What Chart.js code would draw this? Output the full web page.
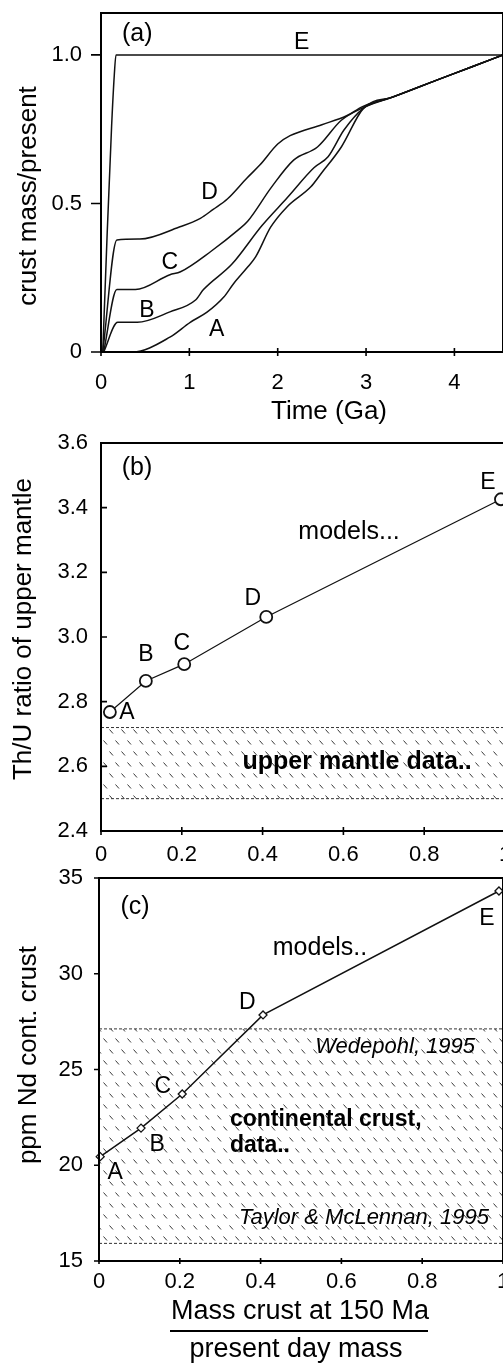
<!DOCTYPE html>
<html><head><meta charset="utf-8">
<script src="https://cdn.jsdelivr.net/npm/chart.js@4.4.1/dist/chart.umd.min.js"></script>
<style>
html,body{margin:0;padding:0;background:#fff;overflow:hidden;}
#page{position:relative;width:503px;height:1364px;overflow:hidden;background:#fff;}
.panel{position:absolute;left:0;}
</style></head><body><div id="page">
<div class="panel" style="top:0;width:520px;height:440px"><canvas id="ca"></canvas></div>
<div class="panel" style="top:420px;width:520px;height:460px"><canvas id="cb"></canvas></div>
<div class="panel" style="top:850px;width:520px;height:514px"><canvas id="cc"></canvas></div>
</div>
<script>
// ---------- Panel (a): crust growth curves ----------
const timeTicks = [0, 1, 2, 3, 4];
const massTicks = [0, 0.5, 1.0];
const curveA_t = [0, 0.36, 0.78, 1.01, 1.2, 1.39, 1.5, 1.66, 1.75, 1.92, 2.11, 2.375, 2.49, 2.72, 2.97, 3.3, 3.8, 4.2, 4.55];
const curveA_m = [0, 0, 0.05, 0.10, 0.134, 0.185, 0.23, 0.286, 0.32, 0.42, 0.49, 0.556, 0.60, 0.69, 0.82, 0.858, 0.915, 0.96, 1.0];
const curveB_t = [0.03, 0.19, 0.41, 0.78, 1.07, 1.16, 1.48, 1.82, 2.11, 2.41, 2.57, 2.75, 2.97, 3.3, 3.8, 4.2, 4.55];
const curveB_m = [0, 0.10, 0.10, 0.135, 0.175, 0.21, 0.295, 0.425, 0.52, 0.62, 0.657, 0.747, 0.82, 0.858, 0.915, 0.96, 1.0];
const curveC_t = [0.03, 0.18, 0.39, 0.78, 0.9, 1.25, 1.55, 1.66, 1.93, 2.18, 2.45, 2.72, 2.95, 3.3, 3.8, 4.2, 4.55];
const curveC_m = [0, 0.21, 0.21, 0.26, 0.27, 0.34, 0.41, 0.44, 0.555, 0.646, 0.69, 0.78, 0.82, 0.858, 0.915, 0.96, 1.0];
const curveD_t = [0.02, 0.18, 0.44, 0.88, 1.125, 1.27, 1.43, 1.65, 1.8, 2.0, 2.14, 2.5, 2.78, 2.96, 3.3, 3.8, 4.2, 4.55];
const curveD_m = [0, 0.377, 0.38, 0.42, 0.45, 0.48, 0.515, 0.585, 0.63, 0.70, 0.728, 0.765, 0.795, 0.826, 0.858, 0.915, 0.96, 1.0];
const curveE_t = [0.02, 0.07, 0.12, 0.15, 0.17, 4.55];
const curveE_m = [0, 0.40, 0.76, 0.93, 1.0, 1.0];

// ---------- Panel (b): Th/U of upper mantle ----------
const modelNames = ['A', 'B', 'C', 'D', 'E'];
const fracTicks = [0, 0.2, 0.4, 0.6, 0.8, 1];
const thuTicks = [2.4, 2.6, 2.8, 3.0, 3.2, 3.4, 3.6];
const massFracB = [0.022, 0.111, 0.206, 0.409, 0.99];
const thuModels = [2.768, 2.864, 2.916, 3.062, 3.426];
const thuDataBand = [2.50, 2.72];

// ---------- Panel (c): Nd in continental crust ----------
const ndTicks = [15, 20, 25, 30, 35];
const massFracC = [0.003, 0.104, 0.206, 0.406, 0.99];
const ndModels = [20.45, 21.94, 23.72, 27.85, 34.32];
const ndDataBand = [15.92, 27.12];
const bandX = [0, 1];

const FONT = '"Liberation Sans", Arial, Helvetica, sans-serif';
const pts = (xs, ys) => xs.map((x, i) => ({x: x, y: ys[i]}));

function hatchPattern() {
  const c = document.createElement('canvas');
  c.width = 12; c.height = 22;
  const g = c.getContext('2d');
  g.strokeStyle = '#3a3a3a'; g.lineWidth = 1;
  g.beginPath();
  g.moveTo(1.5, 1.5); g.lineTo(5, 5.5);
  g.moveTo(7.5, 12.5); g.lineTo(11, 16.5);
  g.stroke();
  return g.createPattern(c, 'repeat');
}
const HATCH = hatchPattern();

// draws frame, ticks (in/out), annotation text in data coords and titles in canvas px
const decor = {
  id: 'decor',
  afterDatasetsDraw(chart, args, o) {
    const ctx = chart.ctx, a = chart.chartArea;
    const xs = chart.scales.x, ys = chart.scales.y;
    ctx.save();
    ctx.strokeStyle = '#000';
    ctx.lineWidth = 2;
    ctx.strokeRect(a.left, a.top, a.right - a.left, a.bottom - a.top);
    ctx.lineWidth = 1.6;
    ctx.beginPath();
    xs.ticks.forEach(t => {
      const p = xs.getPixelForValue(t.value);
      ctx.moveTo(p, a.bottom - o.xIn); ctx.lineTo(p, a.bottom + o.xOut);
    });
    ys.ticks.forEach(t => {
      const p = ys.getPixelForValue(t.value);
      ctx.moveTo(a.left - o.yOut, p); ctx.lineTo(a.left + o.yIn, p);
    });
    ctx.stroke();
    ctx.fillStyle = '#000';
    ctx.textBaseline = 'middle';
    (o.labels || []).forEach(l => {
      ctx.font = (l.style || '') + ' ' + l.size + 'px ' + FONT;
      ctx.textAlign = l.align || 'center';
      ctx.fillText(l.text, xs.getPixelForValue(l.x), ys.getPixelForValue(l.y));
    });
    (o.titles || []).forEach(l => {
      ctx.save();
      ctx.translate(l.px, l.py);
      if (l.rot) ctx.rotate(l.rot);
      ctx.font = l.size + 'px ' + FONT;
      ctx.textAlign = 'center';
      ctx.fillText(l.text, 0, 0);
      ctx.restore();
    });
    (o.bars || []).forEach(b => {
      ctx.lineWidth = 2;
      ctx.beginPath(); ctx.moveTo(b.x1, b.y); ctx.lineTo(b.x2, b.y); ctx.stroke();
    });
    ctx.restore();
  }
};

function scaleX(min, max, ticks, labels, pad, h) {
  return {
    type: 'linear', min: min, max: max,
    afterBuildTicks: s => { s.ticks = ticks.map(v => ({value: v})); },
    afterFit: s => { s.height = h; s.paddingLeft = 0; s.paddingRight = 0; },
    grid: {display: true, drawOnChartArea: false, drawTicks: false, color: 'rgba(0,0,0,0)'},
    border: {display: false},
    ticks: {color: '#000', padding: pad, maxRotation: 0, autoSkip: false,
      font: {family: FONT, size: 22},
      callback: (v, i) => labels[i]}
  };
}
function scaleY(min, max, ticks, labels, pad, w) {
  return {
    type: 'linear', min: min, max: max,
    afterBuildTicks: s => { s.ticks = ticks.map(v => ({value: v})); },
    afterFit: s => { s.width = w; s.paddingTop = 0; s.paddingBottom = 0; },
    grid: {display: true, drawOnChartArea: false, drawTicks: false, color: 'rgba(0,0,0,0)'},
    border: {display: false},
    ticks: {color: '#000', padding: pad, autoSkip: false,
      font: {family: FONT, size: 22},
      callback: (v, i) => labels[i]}
  };
}
const baseOpts = (padTop, padRight) => ({
  responsive: true, maintainAspectRatio: false, animation: false,
  layout: {padding: {top: padTop, right: padRight, left: 0, bottom: 0}},
  plugins: {legend: {display: false}, tooltip: {enabled: false}}
});
const curve = (xs, ys) => ({
  data: pts(xs, ys), borderColor: '#111', borderWidth: 1.5, pointRadius: 0,
  fill: false, cubicInterpolationMode: 'monotone'
});

// ----- chart a -----
const optA = baseOpts(13, 17);
optA.scales = {
  x: scaleX(0, 4.55, timeTicks, timeTicks.map(String), 18, 88),
  y: scaleY(0, 1.141, massTicks, ['0', '0.5', '1.0'], 19, 101)
};
optA.plugins.decor = {
  xIn: 4, xOut: 4, yIn: 0, yOut: 10,
  labels: [
    {text: '(a)', x: 0.41, y: 1.07, size: 25},
    {text: 'E', x: 2.27, y: 1.04, size: 23},
    {text: 'D', x: 1.23, y: 0.535, size: 23},
    {text: 'C', x: 0.78, y: 0.30, size: 23},
    {text: 'B', x: 0.52, y: 0.14, size: 23},
    {text: 'A', x: 1.31, y: 0.074, size: 23}
  ],
  titles: [
    {text: 'crust mass/present', px: 29, py: 196, rot: -Math.PI / 2, size: 26},
    {text: 'Time (Ga)', px: 329, py: 412, size: 26}
  ]
};
new Chart(document.getElementById('ca'), {
  type: 'line',
  data: {datasets: [
    curve(curveA_t, curveA_m), curve(curveB_t, curveB_m), curve(curveC_t, curveC_m),
    curve(curveD_t, curveD_m), curve(curveE_t, curveE_m)
  ]},
  options: optA,
  plugins: [decor]
});

// ----- band helper -----
function bandSets(band) {
  return [
    {data: pts(bandX, [band[1], band[1]]), borderColor: '#333', borderWidth: 1, borderDash: [3, 2],
      pointRadius: 0, fill: '+1', backgroundColor: HATCH, order: 3},
    {data: pts(bandX, [band[0], band[0]]), borderColor: '#333', borderWidth: 1, borderDash: [3, 2],
      pointRadius: 0, fill: false, order: 2}
  ];
}

// ----- chart b -----
const optB = baseOpts(23, 15);
optB.scales = {
  x: scaleX(0, 1, fracTicks, ['0', '0.2', '0.4', '0.6', '0.8', '1'], 11, 49),
  y: scaleY(2.4, 3.6, thuTicks, thuTicks.map(v => v.toFixed(1)), 13, 101)
};
optB.plugins.decor = {
  xIn: 4, xOut: 4, yIn: 6, yOut: 0,
  labels: [
    {text: '(b)', x: 0.089, y: 3.522, size: 25},
    {text: 'E', x: 0.958, y: 3.476, size: 23},
    {text: 'models...', x: 0.614, y: 3.324, size: 25},
    {text: 'D', x: 0.376, y: 3.12, size: 23},
    {text: 'C', x: 0.20, y: 2.98, size: 23},
    {text: 'B', x: 0.111, y: 2.944, size: 23},
    {text: 'A', x: 0.064, y: 2.765, size: 23},
    {text: 'upper mantle data..', x: 0.634, y: 2.613, size: 25, style: 'bold'}
  ],
  titles: [
    {text: 'Th/U ratio of upper mantle', px: 24, py: 209, rot: -Math.PI / 2, size: 26}
  ]
};
new Chart(document.getElementById('cb'), {
  type: 'line',
  data: {datasets: [
    {data: pts(massFracB, thuModels), borderColor: '#111', borderWidth: 1.2, pointRadius: 6,
      pointBorderWidth: 1.8, pointBackgroundColor: '#fff', pointBorderColor: '#111',
      fill: false, clip: false, order: 1}
  ].concat(bandSets(thuDataBand))},
  options: optB,
  plugins: [decor]
});

// ----- chart c -----
const optC = baseOpts(28, 17);
optC.scales = {
  x: scaleX(0, 1, fracTicks, ['0', '0.2', '0.4', '0.6', '0.8', '1'], 8, 103),
  y: scaleY(15, 35, ndTicks, ndTicks.map(String), 16, 99)
};
optC.plugins.decor = {
  xIn: 3, xOut: 3, yIn: 0, yOut: 5,
  labels: [
    {text: '(c)', x: 0.089, y: 33.49, size: 25},
    {text: 'E', x: 0.96, y: 32.9, size: 23},
    {text: 'models..', x: 0.547, y: 31.36, size: 25},
    {text: 'D', x: 0.367, y: 28.5, size: 23},
    {text: 'Wedepohl, 1995', x: 0.733, y: 26.2, size: 22, style: 'italic'},
    {text: 'C', x: 0.158, y: 24.1, size: 23},
    {text: 'B', x: 0.144, y: 21.1, size: 23},
    {text: 'A', x: 0.04, y: 19.6, size: 23},
    {text: 'continental crust,', x: 0.324, y: 22.4, size: 23, align: 'left', style: 'bold'},
    {text: 'data..', x: 0.324, y: 21.0, size: 23, align: 'left', style: 'bold'},
    {text: 'Taylor & McLennan, 1995', x: 0.656, y: 17.25, size: 22, style: 'italic'}
  ],
  titles: [
    {text: 'ppm Nd cont. crust', px: 29, py: 205, rot: -Math.PI / 2, size: 26},
    {text: 'Mass crust at 150 Ma', px: 300, py: 462, size: 27},
    {text: 'present day mass', px: 296, py: 500, size: 27}
  ],
  bars: [{x1: 170, x2: 428, y: 481}]
};
new Chart(document.getElementById('cc'), {
  type: 'line',
  data: {datasets: [
    {data: pts(massFracC, ndModels), borderColor: '#111', borderWidth: 1.5, pointRadius: 4,
      pointStyle: 'rectRot', pointBorderWidth: 1.3, pointBackgroundColor: '#fff', pointBorderColor: '#111',
      fill: false, clip: false, order: 1}
  ].concat(bandSets(ndDataBand))},
  options: optC,
  plugins: [decor]
});
</script>
</body></html>
